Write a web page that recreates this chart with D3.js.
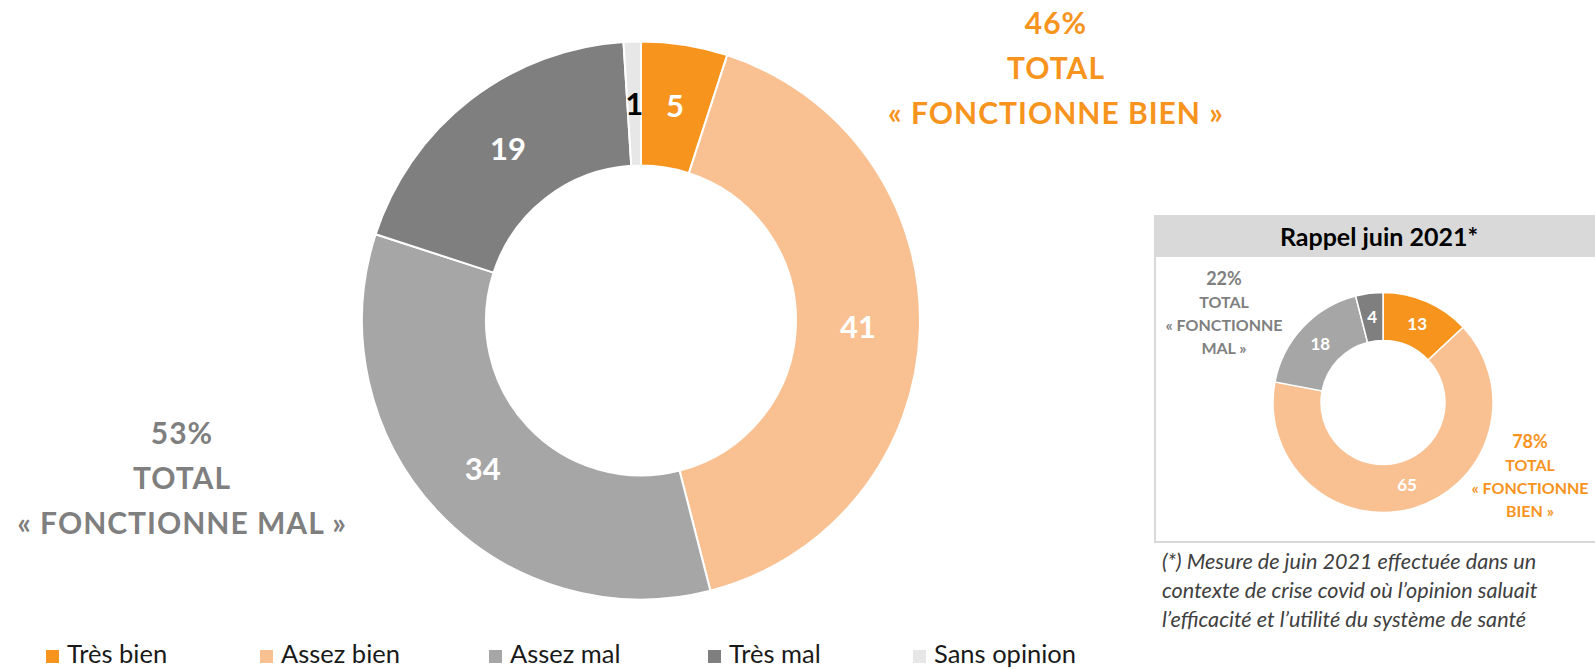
<!DOCTYPE html>
<html><head><meta charset="utf-8">
<script src="https://cdn.jsdelivr.net/npm/d3@7"></script>
<style>
html,body{margin:0;padding:0;background:#fff;}
svg{display:block;font-family:Lato,"Open Sans",sans-serif;}
</style></head>
<body><svg id="c" width="1595" height="669"></svg>
<script>
const categories = ["Très bien","Assez bien","Assez mal","Très mal","Sans opinion"];
const colors = ["#F7941D","#F9C192","#A6A6A6","#7F7F7F","#E7E7E7"];
const labelColors = ["#fff","#fff","#fff","#fff","#000"];
const mainValues = [5,41,34,19,1];
const juin2021Values = [13,65,18,4,0];
const mainTotals = {bien:["46%","TOTAL","« FONCTIONNE BIEN »"], mal:["53%","TOTAL","« FONCTIONNE MAL »"]};
const smallTotals = {bien:["78%","TOTAL","« FONCTIONNE","BIEN »"], mal:["22%","TOTAL","« FONCTIONNE","MAL »"]};
const panelTitle = "Rappel juin 2021*";
const footnote = ["(*) Mesure de juin 2021 effectuée dans un","contexte de crise covid où l’opinion saluait","l’efficacité et l’utilité du système de santé"];

const svg = d3.select("#c");
const orange = "#F7941D", gray = "#7F7F7F";

function donut(values, cx, cy, r0, r1, fontSize, strokeW){
  const data = categories.map((c,i)=>({cat:c, v:values[i], i}));
  const pie = d3.pie().sort(null).value(d=>d.v);
  const arc = d3.arc().innerRadius(r0).outerRadius(r1);
  const g = svg.append("g").attr("transform",`translate(${cx},${cy})`);
  const arcs = pie(data).filter(a=>a.data.v>0);
  g.selectAll("path").data(arcs).join("path")
    .attr("d",arc).attr("fill",d=>colors[d.data.i])
    .attr("stroke","#fff").attr("stroke-width",strokeW);
  g.selectAll("text").data(arcs).join("text")
    .attr("transform",d=>`translate(${arc.centroid(d)})`)
    .attr("text-anchor","middle").attr("dy","0.36em")
    .attr("font-size",fontSize).attr("font-weight",700)
    .attr("fill",d=>labelColors[d.data.i])
    .text(d=>d.data.v);
}

// main donut
donut(mainValues, 641, 320.5, 155, 279, 31, 2);

function block(lines, x, y0, dy, sizes, color, ls){
  const t = svg.append("text").attr("text-anchor","middle").attr("fill",color).attr("font-weight",700)
    .attr("letter-spacing", ls||0);
  lines.forEach((l,i)=>{
    t.append("tspan").attr("x",x).attr("y",y0+i*dy).attr("font-size",sizes[i]).text(l);
  });
}
block(mainTotals.bien, 1056, 34, 45, [30,30,30], orange, 1);
block(mainTotals.mal, 182, 444, 45, [30,30,30], gray, 1);

// legend
const legX = [46,260,489,708,913];
const lg = svg.append("g");
categories.forEach((c,i)=>{
  lg.append("rect").attr("x",legX[i]).attr("y",650).attr("width",13).attr("height",13).attr("fill",colors[i]);
  lg.append("text").attr("x",legX[i]+21).attr("y",663).attr("font-size",25.5).attr("fill","#1a1a1a").text(c);
});

// panel
svg.append("rect").attr("x",1155).attr("y",216).attr("width",460).attr("height",326)
  .attr("fill","#fff").attr("stroke","#D9D9D9").attr("stroke-width",2);
svg.append("rect").attr("x",1155).attr("y",216).attr("width",460).attr("height",41).attr("fill","#D9D9D9");
svg.append("text").attr("x",1379).attr("y",246).attr("text-anchor","middle")
  .attr("font-size",25).attr("font-weight",700).attr("fill","#000").text(panelTitle);

donut(juin2021Values, 1383, 402.5, 62, 110, 17, 1.5);
block(smallTotals.mal, 1224, 285, 23, [18,16,16,16], gray);
block(smallTotals.bien, 1530, 448, 23, [18,16,16,16], orange);

// footnote
const ft = svg.append("text").attr("font-style","italic").attr("font-size",21.6).attr("fill","#404040");
footnote.forEach((l,i)=>ft.append("tspan").attr("x",1162).attr("y",569+i*29).text(l));
</script>
</body></html>
